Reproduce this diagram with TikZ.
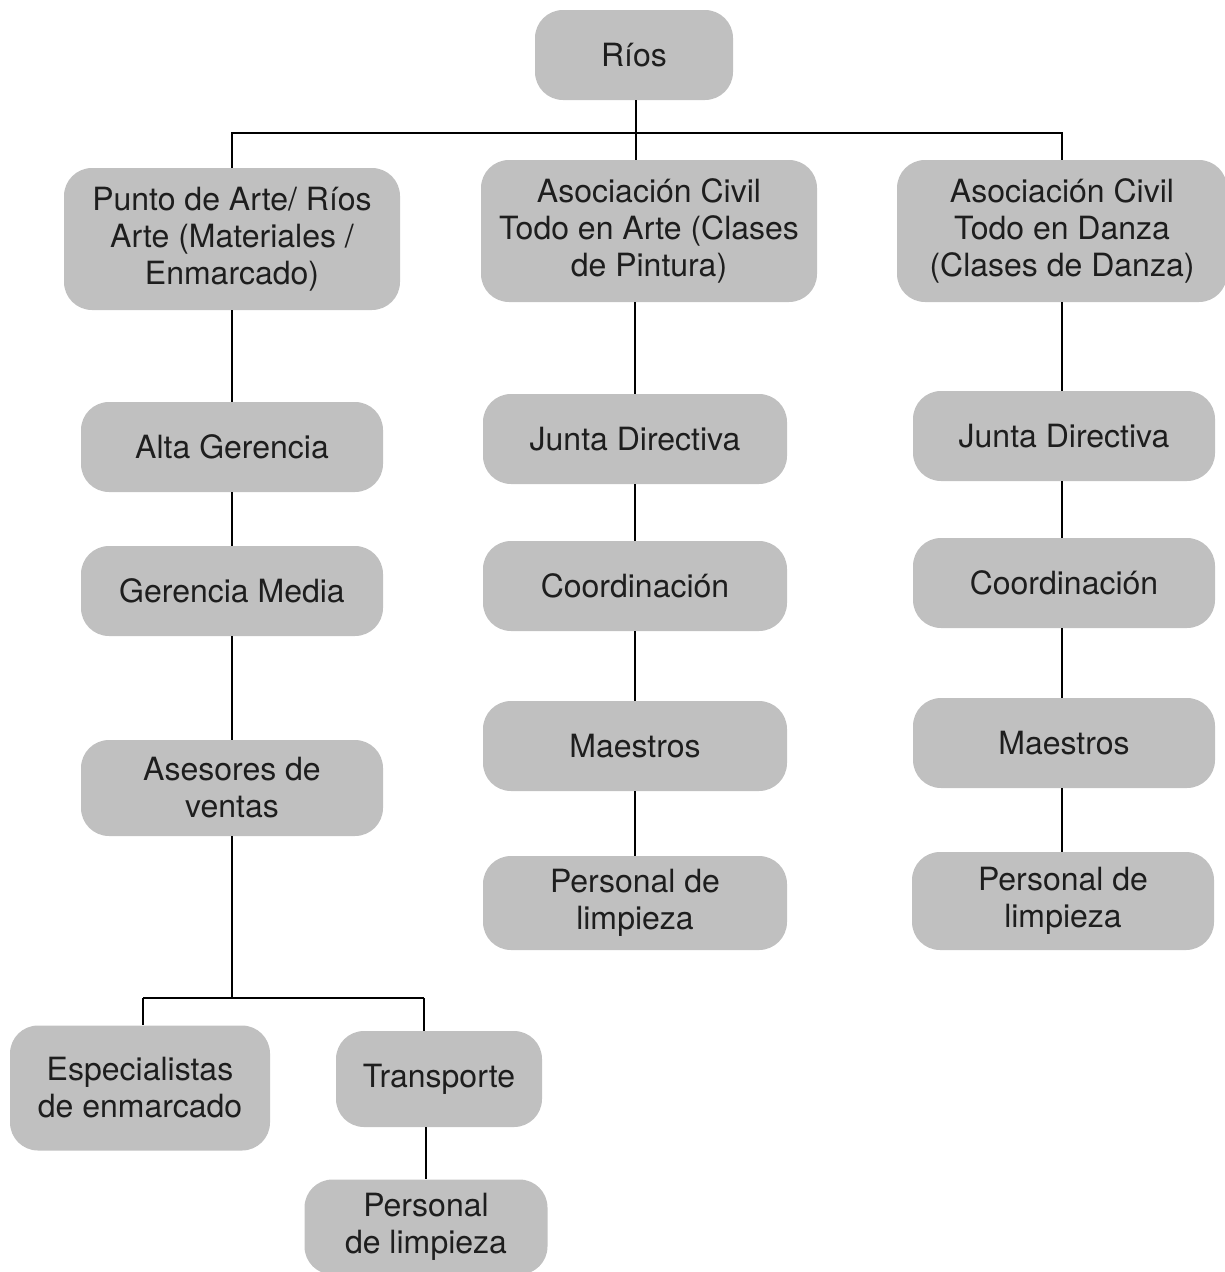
\documentclass[tikz,border=0pt]{standalone}
\usepackage{fontspec}
\setmainfont{TeX Gyre Heros}
\definecolor{boxgray}{HTML}{C0C0C0}
\definecolor{txtgray}{HTML}{1E1E1E}

\begin{document}
\begin{tikzpicture}
	[x=1pt,y=-1pt,
	every node/.style={fill=boxgray,rounded corners=28pt,text=txtgray,align=center,
		font=\fontsize{32}{37}\selectfont,inner sep=0pt},
	small/.style={minimum width=302pt,minimum height=90pt},
	big/.style={minimum width=336pt,minimum height=142pt},
	link/.style={draw=black,line width=1.3pt}]
	\useasboundingbox (0,0) rectangle (1225,1272);

	% top
	\node[minimum width=198pt,minimum height=90pt] (rios) at (634,55) {Ríos};
	\node[big] (punto) at (232,239) {Punto de Arte/ Ríos\\Arte (Materiales /\\Enmarcado)};
	\node[big] (arte) at (649,231) {Asociación Civil\\Todo en Arte (Clases\\de Pintura)};
	\node[big,minimum width=330pt] (danza) at (1062,231) {Asociación Civil\\Todo en Danza\\(Clases de Danza)};

	% left column
	\node[small] (alta) at (232,447) {Alta Gerencia};
	\node[small] (gerencia) at (232,591) {Gerencia Media};
	\node[small,minimum height=96pt] (asesores) at (232,788) {Asesores de\\ventas};
	\node[minimum width=260pt,minimum height=125pt] (espec) at (140,1088) {Especialistas\\de enmarcado};
	\node[minimum width=206pt,minimum height=96pt] (transp) at (439,1079) {Transporte};
	\node[minimum width=243pt,minimum height=95pt] (limpA) at (426,1227) {Personal\\de limpieza};

	% middle column
	\node[small,minimum width=304pt] (juntaB) at (635,439) {Junta Directiva};
	\node[small,minimum width=304pt] (coordB) at (635,586) {Coordinación};
	\node[small,minimum width=304pt] (maestB) at (635,746) {Maestros};
	\node[small,minimum width=304pt,minimum height=94pt] (limpB) at (635,903) {Personal de\\limpieza};

	% right column
	\node[small] (juntaC) at (1064,436) {Junta Directiva};
	\node[small] (coordC) at (1064,583) {Coordinación};
	\node[small] (maestC) at (1064,743) {Maestros};
	\node[small,minimum height=98pt] (limpC) at (1063,901) {Personal de\\limpieza};

	\coordinate (bar) at (636,133);
	\coordinate (barL) at (143,998);
	\coordinate (barR) at (424,998);

	\draw[link] (rios.south -| bar) -- (bar |- arte.north);
	\draw[link] (punto.north) |- (bar) -| (danza.north);

	\draw[link] (punto.south) -- (alta.north);
	\draw[link] (alta.south) -- (gerencia.north);
	\draw[link] (gerencia.south) -- (asesores.north);
	\draw[link] (asesores.south) -- (asesores.south |- barL);
	\draw[link] (barL) -- (barR);
	\draw[link] (barL) -- (barL |- espec.north);
	\draw[link] (barR) -- (barR |- transp.north);
	\draw[link] (limpA |- transp.south) -- (limpA.north);

	\draw[link] (juntaB |- arte.south) -- (juntaB.north);
	\draw[link] (juntaB.south) -- (coordB.north);
	\draw[link] (coordB.south) -- (maestB.north);
	\draw[link] (maestB.south) -- (limpB.north);

	\draw[link] (danza.south) -- (danza.south |- juntaC.north);
	\draw[link] (danza.south |- juntaC.south) -- (danza.south |- coordC.north);
	\draw[link] (danza.south |- coordC.south) -- (danza.south |- maestC.north);
	\draw[link] (danza.south |- maestC.south) -- (danza.south |- limpC.north);

\end{tikzpicture}
\end{document}
